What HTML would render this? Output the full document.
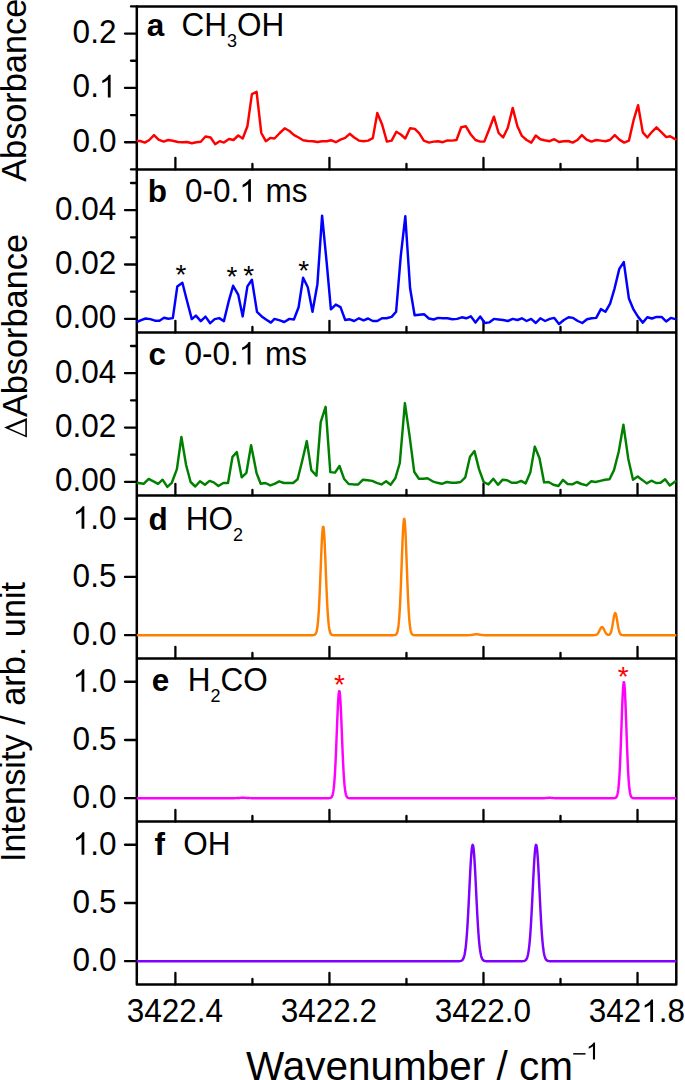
<!DOCTYPE html>
<html><head><meta charset="utf-8"><style>
html,body{margin:0;padding:0;background:#fff;}
body{width:685px;height:1080px;overflow:hidden;}
svg{display:block;font-family:"Liberation Sans",sans-serif;}
</style></head><body>
<svg width="685" height="1080" viewBox="0 0 685 1080">
<rect width="685" height="1080" fill="#fff"/>
<line x1="136.80" y1="169.42" x2="676.30" y2="169.42" stroke="#000" stroke-width="2.5" stroke-linecap="butt"/>
<line x1="136.80" y1="332.43" x2="676.30" y2="332.43" stroke="#000" stroke-width="2.5" stroke-linecap="butt"/>
<line x1="136.80" y1="495.45" x2="676.30" y2="495.45" stroke="#000" stroke-width="2.5" stroke-linecap="butt"/>
<line x1="136.80" y1="658.47" x2="676.30" y2="658.47" stroke="#000" stroke-width="2.5" stroke-linecap="butt"/>
<line x1="136.80" y1="821.48" x2="676.30" y2="821.48" stroke="#000" stroke-width="2.5" stroke-linecap="butt"/>
<path d="M136.8,984.5000000000001 L136.8,6.4 L676.3,6.4 L676.3,984.5000000000001 Z" fill="none" stroke="#000" stroke-width="2.5" stroke-linejoin="round"/>
<line x1="175.40" y1="169.42" x2="175.40" y2="157.82" stroke="#000" stroke-width="2.3" stroke-linecap="round"/>
<line x1="252.42" y1="169.42" x2="252.42" y2="163.92" stroke="#000" stroke-width="2.3" stroke-linecap="round"/>
<line x1="329.44" y1="169.42" x2="329.44" y2="157.82" stroke="#000" stroke-width="2.3" stroke-linecap="round"/>
<line x1="406.46" y1="169.42" x2="406.46" y2="163.92" stroke="#000" stroke-width="2.3" stroke-linecap="round"/>
<line x1="483.48" y1="169.42" x2="483.48" y2="157.82" stroke="#000" stroke-width="2.3" stroke-linecap="round"/>
<line x1="560.50" y1="169.42" x2="560.50" y2="163.92" stroke="#000" stroke-width="2.3" stroke-linecap="round"/>
<line x1="637.52" y1="169.42" x2="637.52" y2="157.82" stroke="#000" stroke-width="2.3" stroke-linecap="round"/>
<line x1="175.40" y1="332.43" x2="175.40" y2="320.83" stroke="#000" stroke-width="2.3" stroke-linecap="round"/>
<line x1="252.42" y1="332.43" x2="252.42" y2="326.93" stroke="#000" stroke-width="2.3" stroke-linecap="round"/>
<line x1="329.44" y1="332.43" x2="329.44" y2="320.83" stroke="#000" stroke-width="2.3" stroke-linecap="round"/>
<line x1="406.46" y1="332.43" x2="406.46" y2="326.93" stroke="#000" stroke-width="2.3" stroke-linecap="round"/>
<line x1="483.48" y1="332.43" x2="483.48" y2="320.83" stroke="#000" stroke-width="2.3" stroke-linecap="round"/>
<line x1="560.50" y1="332.43" x2="560.50" y2="326.93" stroke="#000" stroke-width="2.3" stroke-linecap="round"/>
<line x1="637.52" y1="332.43" x2="637.52" y2="320.83" stroke="#000" stroke-width="2.3" stroke-linecap="round"/>
<line x1="175.40" y1="495.45" x2="175.40" y2="483.85" stroke="#000" stroke-width="2.3" stroke-linecap="round"/>
<line x1="252.42" y1="495.45" x2="252.42" y2="489.95" stroke="#000" stroke-width="2.3" stroke-linecap="round"/>
<line x1="329.44" y1="495.45" x2="329.44" y2="483.85" stroke="#000" stroke-width="2.3" stroke-linecap="round"/>
<line x1="406.46" y1="495.45" x2="406.46" y2="489.95" stroke="#000" stroke-width="2.3" stroke-linecap="round"/>
<line x1="483.48" y1="495.45" x2="483.48" y2="483.85" stroke="#000" stroke-width="2.3" stroke-linecap="round"/>
<line x1="560.50" y1="495.45" x2="560.50" y2="489.95" stroke="#000" stroke-width="2.3" stroke-linecap="round"/>
<line x1="637.52" y1="495.45" x2="637.52" y2="483.85" stroke="#000" stroke-width="2.3" stroke-linecap="round"/>
<line x1="175.40" y1="658.47" x2="175.40" y2="646.87" stroke="#000" stroke-width="2.3" stroke-linecap="round"/>
<line x1="252.42" y1="658.47" x2="252.42" y2="652.97" stroke="#000" stroke-width="2.3" stroke-linecap="round"/>
<line x1="329.44" y1="658.47" x2="329.44" y2="646.87" stroke="#000" stroke-width="2.3" stroke-linecap="round"/>
<line x1="406.46" y1="658.47" x2="406.46" y2="652.97" stroke="#000" stroke-width="2.3" stroke-linecap="round"/>
<line x1="483.48" y1="658.47" x2="483.48" y2="646.87" stroke="#000" stroke-width="2.3" stroke-linecap="round"/>
<line x1="560.50" y1="658.47" x2="560.50" y2="652.97" stroke="#000" stroke-width="2.3" stroke-linecap="round"/>
<line x1="637.52" y1="658.47" x2="637.52" y2="646.87" stroke="#000" stroke-width="2.3" stroke-linecap="round"/>
<line x1="175.40" y1="821.48" x2="175.40" y2="809.88" stroke="#000" stroke-width="2.3" stroke-linecap="round"/>
<line x1="252.42" y1="821.48" x2="252.42" y2="815.98" stroke="#000" stroke-width="2.3" stroke-linecap="round"/>
<line x1="329.44" y1="821.48" x2="329.44" y2="809.88" stroke="#000" stroke-width="2.3" stroke-linecap="round"/>
<line x1="406.46" y1="821.48" x2="406.46" y2="815.98" stroke="#000" stroke-width="2.3" stroke-linecap="round"/>
<line x1="483.48" y1="821.48" x2="483.48" y2="809.88" stroke="#000" stroke-width="2.3" stroke-linecap="round"/>
<line x1="560.50" y1="821.48" x2="560.50" y2="815.98" stroke="#000" stroke-width="2.3" stroke-linecap="round"/>
<line x1="637.52" y1="821.48" x2="637.52" y2="809.88" stroke="#000" stroke-width="2.3" stroke-linecap="round"/>
<line x1="175.40" y1="984.50" x2="175.40" y2="972.90" stroke="#000" stroke-width="2.3" stroke-linecap="round"/>
<line x1="252.42" y1="984.50" x2="252.42" y2="979.00" stroke="#000" stroke-width="2.3" stroke-linecap="round"/>
<line x1="329.44" y1="984.50" x2="329.44" y2="972.90" stroke="#000" stroke-width="2.3" stroke-linecap="round"/>
<line x1="406.46" y1="984.50" x2="406.46" y2="979.00" stroke="#000" stroke-width="2.3" stroke-linecap="round"/>
<line x1="483.48" y1="984.50" x2="483.48" y2="972.90" stroke="#000" stroke-width="2.3" stroke-linecap="round"/>
<line x1="560.50" y1="984.50" x2="560.50" y2="979.00" stroke="#000" stroke-width="2.3" stroke-linecap="round"/>
<line x1="637.52" y1="984.50" x2="637.52" y2="972.90" stroke="#000" stroke-width="2.3" stroke-linecap="round"/>
<line x1="125.00" y1="142.25" x2="136.80" y2="142.25" stroke="#000" stroke-width="2.3" stroke-linecap="round"/>
<text xml:space="preserve" transform="translate(72.61,151.75) scale(1,1.026)" font-size="31.5" font-weight="normal" fill="#000">0.0</text>
<line x1="125.00" y1="87.91" x2="136.80" y2="87.91" stroke="#000" stroke-width="2.3" stroke-linecap="round"/>
<text xml:space="preserve" transform="translate(72.61,97.41) scale(1,1.026)" font-size="31.5" font-weight="normal" fill="#000">0.</text>
<path transform="translate(98.88,97.41) scale(0.01538,-0.01538)" d="M763 0H583V1147Q518 1085 412.5 1023Q307 961 223 930V1104Q374 1175 487 1276Q600 1377 647 1466H763V0Z" fill="#000"/>
<line x1="125.00" y1="33.57" x2="136.80" y2="33.57" stroke="#000" stroke-width="2.3" stroke-linecap="round"/>
<text xml:space="preserve" transform="translate(72.61,43.07) scale(1,1.026)" font-size="31.5" font-weight="normal" fill="#000">0.2</text>
<line x1="131.00" y1="169.42" x2="136.80" y2="169.42" stroke="#000" stroke-width="2.3" stroke-linecap="round"/>
<line x1="131.00" y1="115.08" x2="136.80" y2="115.08" stroke="#000" stroke-width="2.3" stroke-linecap="round"/>
<line x1="131.00" y1="60.74" x2="136.80" y2="60.74" stroke="#000" stroke-width="2.3" stroke-linecap="round"/>
<line x1="131.00" y1="6.40" x2="136.80" y2="6.40" stroke="#000" stroke-width="2.3" stroke-linecap="round"/>
<line x1="125.00" y1="318.85" x2="136.80" y2="318.85" stroke="#000" stroke-width="2.3" stroke-linecap="round"/>
<text xml:space="preserve" transform="translate(55.09,328.35) scale(1,1.026)" font-size="31.5" font-weight="normal" fill="#000">0.00</text>
<line x1="125.00" y1="264.51" x2="136.80" y2="264.51" stroke="#000" stroke-width="2.3" stroke-linecap="round"/>
<text xml:space="preserve" transform="translate(55.09,274.01) scale(1,1.026)" font-size="31.5" font-weight="normal" fill="#000">0.02</text>
<line x1="125.00" y1="210.17" x2="136.80" y2="210.17" stroke="#000" stroke-width="2.3" stroke-linecap="round"/>
<text xml:space="preserve" transform="translate(55.09,219.67) scale(1,1.026)" font-size="31.5" font-weight="normal" fill="#000">0.04</text>
<line x1="131.00" y1="291.68" x2="136.80" y2="291.68" stroke="#000" stroke-width="2.3" stroke-linecap="round"/>
<line x1="131.00" y1="237.34" x2="136.80" y2="237.34" stroke="#000" stroke-width="2.3" stroke-linecap="round"/>
<line x1="131.00" y1="183.00" x2="136.80" y2="183.00" stroke="#000" stroke-width="2.3" stroke-linecap="round"/>
<line x1="125.00" y1="481.87" x2="136.80" y2="481.87" stroke="#000" stroke-width="2.3" stroke-linecap="round"/>
<text xml:space="preserve" transform="translate(55.09,491.37) scale(1,1.026)" font-size="31.5" font-weight="normal" fill="#000">0.00</text>
<line x1="125.00" y1="427.53" x2="136.80" y2="427.53" stroke="#000" stroke-width="2.3" stroke-linecap="round"/>
<text xml:space="preserve" transform="translate(55.09,437.03) scale(1,1.026)" font-size="31.5" font-weight="normal" fill="#000">0.02</text>
<line x1="125.00" y1="373.19" x2="136.80" y2="373.19" stroke="#000" stroke-width="2.3" stroke-linecap="round"/>
<text xml:space="preserve" transform="translate(55.09,382.69) scale(1,1.026)" font-size="31.5" font-weight="normal" fill="#000">0.04</text>
<line x1="131.00" y1="454.70" x2="136.80" y2="454.70" stroke="#000" stroke-width="2.3" stroke-linecap="round"/>
<line x1="131.00" y1="400.36" x2="136.80" y2="400.36" stroke="#000" stroke-width="2.3" stroke-linecap="round"/>
<line x1="131.00" y1="346.02" x2="136.80" y2="346.02" stroke="#000" stroke-width="2.3" stroke-linecap="round"/>
<line x1="125.00" y1="635.18" x2="136.80" y2="635.18" stroke="#000" stroke-width="2.3" stroke-linecap="round"/>
<text xml:space="preserve" transform="translate(72.61,645.28) scale(1,1.026)" font-size="31.5" font-weight="normal" fill="#000">0.0</text>
<line x1="125.00" y1="576.96" x2="136.80" y2="576.96" stroke="#000" stroke-width="2.3" stroke-linecap="round"/>
<text xml:space="preserve" transform="translate(72.61,587.06) scale(1,1.026)" font-size="31.5" font-weight="normal" fill="#000">0.5</text>
<line x1="125.00" y1="518.74" x2="136.80" y2="518.74" stroke="#000" stroke-width="2.3" stroke-linecap="round"/>
<path transform="translate(72.61,528.84) scale(0.01538,-0.01538)" d="M763 0H583V1147Q518 1085 412.5 1023Q307 961 223 930V1104Q374 1175 487 1276Q600 1377 647 1466H763V0Z" fill="#000"/>
<text xml:space="preserve" transform="translate(90.13,528.84) scale(1,1.026)" font-size="31.5" font-weight="normal" fill="#000">.0</text>
<line x1="125.00" y1="798.20" x2="136.80" y2="798.20" stroke="#000" stroke-width="2.3" stroke-linecap="round"/>
<text xml:space="preserve" transform="translate(72.61,808.30) scale(1,1.026)" font-size="31.5" font-weight="normal" fill="#000">0.0</text>
<line x1="125.00" y1="739.98" x2="136.80" y2="739.98" stroke="#000" stroke-width="2.3" stroke-linecap="round"/>
<text xml:space="preserve" transform="translate(72.61,750.08) scale(1,1.026)" font-size="31.5" font-weight="normal" fill="#000">0.5</text>
<line x1="125.00" y1="681.75" x2="136.80" y2="681.75" stroke="#000" stroke-width="2.3" stroke-linecap="round"/>
<path transform="translate(72.61,691.85) scale(0.01538,-0.01538)" d="M763 0H583V1147Q518 1085 412.5 1023Q307 961 223 930V1104Q374 1175 487 1276Q600 1377 647 1466H763V0Z" fill="#000"/>
<text xml:space="preserve" transform="translate(90.13,691.85) scale(1,1.026)" font-size="31.5" font-weight="normal" fill="#000">.0</text>
<line x1="125.00" y1="961.21" x2="136.80" y2="961.21" stroke="#000" stroke-width="2.3" stroke-linecap="round"/>
<text xml:space="preserve" transform="translate(72.61,971.31) scale(1,1.026)" font-size="31.5" font-weight="normal" fill="#000">0.0</text>
<line x1="125.00" y1="902.99" x2="136.80" y2="902.99" stroke="#000" stroke-width="2.3" stroke-linecap="round"/>
<text xml:space="preserve" transform="translate(72.61,913.09) scale(1,1.026)" font-size="31.5" font-weight="normal" fill="#000">0.5</text>
<line x1="125.00" y1="844.77" x2="136.80" y2="844.77" stroke="#000" stroke-width="2.3" stroke-linecap="round"/>
<path transform="translate(72.61,854.87) scale(0.01538,-0.01538)" d="M763 0H583V1147Q518 1085 412.5 1023Q307 961 223 930V1104Q374 1175 487 1276Q600 1377 647 1466H763V0Z" fill="#000"/>
<text xml:space="preserve" transform="translate(90.13,854.87) scale(1,1.026)" font-size="31.5" font-weight="normal" fill="#000">.0</text>
<defs><clipPath id="cp"><rect x="136.8" y="6.4" width="539.5" height="978.1000000000001"/></clipPath></defs>
<g>
<polyline points="136.80,141.00 140.10,141.00 144.80,142.60 149.30,140.00 154.00,135.10 158.50,139.60 163.60,141.60 168.10,140.00 172.80,140.80 177.90,142.00 182.40,142.20 187.10,142.00 191.80,143.20 196.30,142.20 200.80,141.80 205.50,136.50 210.60,137.50 215.10,144.10 219.80,141.20 223.90,142.60 229.00,139.00 233.50,140.00 238.20,135.50 242.70,138.50 247.40,126.30 251.90,94.20 256.60,91.90 261.30,133.00 265.80,141.20 270.30,137.90 274.50,138.50 279.80,133.00 284.70,128.30 289.40,131.00 294.10,135.10 298.60,137.50 303.10,140.20 307.80,141.00 312.90,141.20 317.40,142.00 322.10,141.20 326.80,141.20 330.90,140.20 335.80,142.20 340.50,139.60 345.20,137.90 349.70,133.80 354.20,137.50 358.90,140.60 363.60,141.20 368.10,140.60 372.80,138.10 377.30,113.00 382.00,124.20 386.90,141.60 391.60,140.60 396.30,131.80 400.80,134.50 405.30,138.50 410.10,128.30 414.80,128.90 419.30,133.40 423.80,140.60 429.10,142.60 433.60,141.60 438.10,141.20 442.80,142.20 447.50,140.40 452.00,140.60 456.50,140.00 461.20,127.30 465.90,126.30 470.80,134.50 475.50,140.00 480.20,141.60 484.30,141.60 489.20,129.30 493.90,116.70 498.60,133.00 503.10,137.50 507.80,127.70 512.70,107.90 517.40,126.30 521.90,135.90 526.60,140.00 531.30,142.60 535.80,135.50 540.30,139.20 544.50,140.20 549.60,141.20 554.30,139.20 559.00,142.00 563.50,141.20 568.20,141.00 572.70,142.60 577.40,140.00 581.90,135.10 586.60,139.60 591.50,141.60 596.20,140.00 600.90,140.60 605.40,141.20 609.90,140.00 614.80,135.10 619.30,139.60 624.20,142.60 628.90,140.60 633.60,120.20 638.10,105.20 642.80,132.40 647.30,137.50 652.00,131.80 656.50,127.30 661.60,132.40 666.30,137.10 670.10,136.30 676.30,139.90" fill="none" stroke="#ff0000" stroke-width="2.45" stroke-linejoin="round" stroke-linecap="butt"/>
<polyline points="136.80,322.10 141.10,320.10 145.60,318.50 150.30,319.10 155.00,320.70 159.50,320.70 164.00,317.70 168.30,318.70 172.80,318.10 177.30,286.40 182.40,282.70 186.70,299.70 191.80,319.10 195.90,315.60 200.80,321.10 205.50,316.60 210.20,323.20 214.70,319.10 219.20,318.10 223.90,321.10 228.60,301.70 233.10,285.80 238.20,294.60 242.70,316.40 247.40,286.40 251.90,279.80 257.00,311.90 261.70,316.40 266.40,319.70 270.90,322.60 274.50,318.90 279.80,320.40 284.30,322.00 289.40,318.90 293.90,319.50 298.60,307.30 303.10,277.70 307.80,287.30 312.50,311.80 317.40,284.20 322.10,215.70 326.80,263.80 330.90,309.30 335.80,304.60 340.50,307.10 345.20,320.00 349.70,319.30 354.20,321.00 358.90,318.30 363.60,320.40 368.10,318.50 372.80,321.00 377.30,321.00 382.00,318.30 386.50,318.30 391.60,316.90 396.10,311.80 400.80,255.60 405.30,216.30 410.10,288.30 414.60,315.30 419.30,314.80 424.00,314.20 428.90,318.50 433.60,319.50 438.10,317.90 442.80,318.30 447.50,318.30 452.40,319.30 457.10,318.90 461.80,317.30 466.30,318.30 470.80,316.30 475.50,322.60 480.20,316.50 484.70,323.00 489.20,322.40 493.90,318.90 498.60,319.50 503.10,320.00 507.80,321.00 512.70,318.90 517.40,320.00 521.90,318.30 526.60,321.00 531.10,318.90 535.80,323.00 540.30,318.30 545.10,321.00 549.80,318.90 554.30,317.90 559.00,324.00 563.90,320.00 568.60,317.30 573.10,317.90 577.80,321.00 582.30,323.00 587.00,319.30 591.70,318.30 596.20,317.90 600.90,309.10 605.40,311.80 610.10,303.60 614.60,288.30 619.30,268.90 623.80,262.10 628.90,298.50 633.60,309.70 638.10,316.90 642.80,322.60 647.30,317.30 652.00,318.50 656.50,316.90 661.60,316.90 666.10,321.40 670.80,317.90 676.30,319.40" fill="none" stroke="#0000ff" stroke-width="2.45" stroke-linejoin="round" stroke-linecap="butt"/>
<polyline points="136.80,482.80 143.60,483.80 148.70,478.90 153.40,481.30 158.10,483.80 162.60,479.70 167.30,486.90 171.80,482.80 176.90,469.10 181.40,437.00 186.10,465.00 190.60,482.00 195.30,486.50 200.00,481.30 204.90,484.80 209.60,480.90 213.70,482.40 218.40,486.00 223.30,483.00 228.00,483.00 232.50,456.80 236.80,452.10 241.70,477.30 246.40,472.80 251.10,445.20 256.60,473.20 260.70,483.80 265.40,483.00 270.30,485.40 274.50,483.80 279.20,481.30 283.90,483.00 288.40,483.00 293.10,483.00 297.60,479.30 302.30,460.50 306.80,441.10 311.30,470.10 316.40,475.80 320.70,422.10 325.60,406.80 330.30,472.10 335.00,472.60 339.50,466.00 344.00,478.70 348.70,484.00 353.40,484.40 358.30,484.40 363.00,479.70 367.70,480.30 372.20,480.90 376.70,482.80 381.40,484.40 386.10,481.30 390.60,484.80 395.30,478.30 399.80,463.00 404.90,403.10 409.50,435.40 414.20,471.70 418.90,478.70 423.40,478.70 427.50,478.30 432.60,481.30 437.30,482.80 441.80,483.80 446.90,482.00 451.60,482.80 456.10,482.80 460.60,482.00 465.30,477.30 470.00,456.80 474.50,451.10 479.00,469.10 483.70,482.00 488.40,484.40 493.30,478.70 498.00,484.80 502.70,479.70 507.20,480.30 511.70,482.80 516.40,482.80 521.10,480.90 525.60,483.40 530.30,472.60 534.80,446.60 539.50,458.30 544.10,482.40 548.60,482.00 553.30,484.80 558.40,486.00 562.90,479.90 567.60,484.00 572.30,484.40 576.80,482.00 581.50,484.00 586.60,485.40 591.10,481.30 595.60,482.00 600.30,480.90 605.00,479.70 609.50,479.30 614.00,470.10 618.70,451.70 623.40,424.70 628.30,458.90 633.00,479.70 637.70,476.60 642.20,479.90 646.70,483.40 651.40,480.70 656.10,483.00 660.60,482.80 665.10,479.30 669.80,485.40 676.30,480.70" fill="none" stroke="#008000" stroke-width="2.45" stroke-linejoin="round" stroke-linecap="butt"/>
<polyline points="136.80,635.18 137.25,635.18 137.70,635.18 138.15,635.18 138.60,635.18 139.05,635.18 139.50,635.18 139.95,635.18 140.40,635.18 140.85,635.18 141.30,635.18 141.75,635.18 142.20,635.18 142.64,635.18 143.09,635.18 143.54,635.18 143.99,635.18 144.44,635.18 144.89,635.18 145.34,635.18 145.79,635.18 146.24,635.18 146.69,635.18 147.14,635.18 147.59,635.18 148.04,635.18 148.49,635.18 148.94,635.18 149.39,635.18 149.84,635.18 150.29,635.18 150.74,635.18 151.19,635.18 151.64,635.18 152.09,635.18 152.54,635.18 152.99,635.18 153.43,635.18 153.88,635.18 154.33,635.18 154.78,635.18 155.23,635.18 155.68,635.18 156.13,635.18 156.58,635.18 157.03,635.18 157.48,635.18 157.93,635.18 158.38,635.18 158.83,635.18 159.28,635.18 159.73,635.18 160.18,635.18 160.63,635.18 161.08,635.18 161.53,635.18 161.98,635.18 162.43,635.18 162.88,635.18 163.33,635.18 163.78,635.18 164.22,635.18 164.67,635.18 165.12,635.18 165.57,635.18 166.02,635.18 166.47,635.18 166.92,635.18 167.37,635.18 167.82,635.18 168.27,635.18 168.72,635.18 169.17,635.18 169.62,635.18 170.07,635.18 170.52,635.18 170.97,635.18 171.42,635.18 171.87,635.18 172.32,635.18 172.77,635.18 173.22,635.18 173.67,635.18 174.12,635.18 174.56,635.18 175.01,635.18 175.46,635.18 175.91,635.18 176.36,635.18 176.81,635.18 177.26,635.18 177.71,635.18 178.16,635.18 178.61,635.18 179.06,635.18 179.51,635.18 179.96,635.18 180.41,635.18 180.86,635.18 181.31,635.18 181.76,635.18 182.21,635.18 182.66,635.18 183.11,635.18 183.56,635.18 184.01,635.18 184.46,635.18 184.91,635.18 185.36,635.18 185.80,635.18 186.25,635.18 186.70,635.18 187.15,635.18 187.60,635.18 188.05,635.18 188.50,635.18 188.95,635.18 189.40,635.18 189.85,635.18 190.30,635.18 190.75,635.18 191.20,635.18 191.65,635.18 192.10,635.18 192.55,635.18 193.00,635.18 193.45,635.18 193.90,635.18 194.35,635.18 194.80,635.18 195.25,635.18 195.70,635.18 196.15,635.18 196.59,635.18 197.04,635.18 197.49,635.18 197.94,635.18 198.39,635.18 198.84,635.18 199.29,635.18 199.74,635.18 200.19,635.18 200.64,635.18 201.09,635.18 201.54,635.18 201.99,635.18 202.44,635.18 202.89,635.18 203.34,635.18 203.79,635.18 204.24,635.18 204.69,635.18 205.14,635.18 205.59,635.18 206.04,635.18 206.49,635.18 206.94,635.18 207.38,635.18 207.83,635.18 208.28,635.18 208.73,635.18 209.18,635.18 209.63,635.18 210.08,635.18 210.53,635.18 210.98,635.18 211.43,635.18 211.88,635.18 212.33,635.18 212.78,635.18 213.23,635.18 213.68,635.18 214.13,635.18 214.58,635.18 215.03,635.18 215.48,635.18 215.93,635.18 216.38,635.18 216.83,635.18 217.28,635.18 217.73,635.18 218.17,635.18 218.62,635.18 219.07,635.18 219.52,635.18 219.97,635.18 220.42,635.18 220.87,635.18 221.32,635.18 221.77,635.18 222.22,635.18 222.67,635.18 223.12,635.18 223.57,635.18 224.02,635.18 224.47,635.18 224.92,635.18 225.37,635.18 225.82,635.18 226.27,635.18 226.72,635.18 227.17,635.18 227.62,635.18 228.07,635.18 228.52,635.18 228.96,635.18 229.41,635.18 229.86,635.18 230.31,635.18 230.76,635.18 231.21,635.18 231.66,635.18 232.11,635.18 232.56,635.18 233.01,635.18 233.46,635.18 233.91,635.18 234.36,635.18 234.81,635.18 235.26,635.18 235.71,635.18 236.16,635.18 236.61,635.18 237.06,635.18 237.51,635.18 237.96,635.18 238.41,635.18 238.86,635.18 239.31,635.18 239.75,635.18 240.20,635.18 240.65,635.18 241.10,635.18 241.55,635.18 242.00,635.18 242.45,635.18 242.90,635.18 243.35,635.18 243.80,635.18 244.25,635.18 244.70,635.18 245.15,635.18 245.60,635.18 246.05,635.18 246.50,635.18 246.95,635.18 247.40,635.18 247.85,635.18 248.30,635.18 248.75,635.18 249.20,635.18 249.65,635.18 250.10,635.18 250.54,635.18 250.99,635.18 251.44,635.18 251.89,635.18 252.34,635.18 252.79,635.18 253.24,635.18 253.69,635.18 254.14,635.18 254.59,635.18 255.04,635.18 255.49,635.18 255.94,635.18 256.39,635.18 256.84,635.18 257.29,635.18 257.74,635.18 258.19,635.18 258.64,635.18 259.09,635.18 259.54,635.18 259.99,635.18 260.44,635.18 260.88,635.18 261.33,635.18 261.78,635.18 262.23,635.18 262.68,635.18 263.13,635.18 263.58,635.18 264.03,635.18 264.48,635.18 264.93,635.18 265.38,635.18 265.83,635.18 266.28,635.18 266.73,635.18 267.18,635.18 267.63,635.18 268.08,635.18 268.53,635.18 268.98,635.18 269.43,635.18 269.88,635.18 270.33,635.18 270.78,635.18 271.23,635.18 271.68,635.18 272.12,635.18 272.57,635.18 273.02,635.18 273.47,635.18 273.92,635.18 274.37,635.18 274.82,635.18 275.27,635.18 275.72,635.18 276.17,635.18 276.62,635.18 277.07,635.18 277.52,635.18 277.97,635.18 278.42,635.18 278.87,635.18 279.32,635.18 279.77,635.18 280.22,635.18 280.67,635.18 281.12,635.18 281.57,635.18 282.02,635.18 282.47,635.18 282.91,635.18 283.36,635.18 283.81,635.18 284.26,635.18 284.71,635.18 285.16,635.18 285.61,635.18 286.06,635.18 286.51,635.18 286.96,635.18 287.41,635.18 287.86,635.18 288.31,635.18 288.76,635.18 289.21,635.18 289.66,635.18 290.11,635.18 290.56,635.18 291.01,635.18 291.46,635.18 291.91,635.18 292.36,635.18 292.81,635.18 293.25,635.18 293.70,635.18 294.15,635.18 294.60,635.18 295.05,635.18 295.50,635.18 295.95,635.18 296.40,635.18 296.85,635.18 297.30,635.18 297.75,635.18 298.20,635.18 298.65,635.18 299.10,635.18 299.55,635.18 300.00,635.18 300.45,635.18 300.90,635.18 301.35,635.18 301.80,635.18 302.25,635.18 302.70,635.18 303.15,635.18 303.60,635.18 304.05,635.18 304.49,635.18 304.94,635.18 305.39,635.18 305.84,635.18 306.29,635.18 306.74,635.18 307.19,635.18 307.64,635.18 308.09,635.18 308.54,635.18 308.99,635.18 309.44,635.18 309.89,635.18 310.34,635.18 310.79,635.18 311.24,635.18 311.69,635.17 312.14,635.17 312.59,635.16 313.04,635.14 313.49,635.10 313.94,635.03 314.39,634.90 314.84,634.68 315.28,634.31 315.73,633.69 316.18,632.72 316.63,631.25 317.08,629.08 317.53,626.01 317.98,621.82 318.43,616.30 318.88,609.32 319.33,600.84 319.78,590.99 320.23,580.04 320.68,568.50 321.13,557.01 321.58,546.35 322.03,537.33 322.48,530.70 322.93,527.04 323.38,526.69 323.83,529.66 324.28,535.70 324.73,544.28 325.18,554.65 325.62,566.03 326.07,577.63 326.52,588.74 326.97,598.86 327.42,607.64 327.87,614.94 328.32,620.76 328.77,625.23 329.22,628.52 329.67,630.86 330.12,632.46 330.57,633.52 331.02,634.20 331.47,634.62 331.92,634.87 332.37,635.01 332.82,635.09 333.27,635.13 333.72,635.16 334.17,635.17 334.62,635.17 335.07,635.18 335.52,635.18 335.97,635.18 336.42,635.18 336.86,635.18 337.31,635.18 337.76,635.18 338.21,635.18 338.66,635.18 339.11,635.18 339.56,635.18 340.01,635.18 340.46,635.18 340.91,635.18 341.36,635.18 341.81,635.18 342.26,635.18 342.71,635.18 343.16,635.18 343.61,635.18 344.06,635.18 344.51,635.18 344.96,635.18 345.41,635.18 345.86,635.18 346.31,635.18 346.76,635.18 347.21,635.18 347.65,635.18 348.10,635.18 348.55,635.18 349.00,635.18 349.45,635.18 349.90,635.18 350.35,635.18 350.80,635.18 351.25,635.18 351.70,635.18 352.15,635.18 352.60,635.18 353.05,635.18 353.50,635.18 353.95,635.18 354.40,635.18 354.85,635.18 355.30,635.18 355.75,635.18 356.20,635.18 356.65,635.18 357.10,635.18 357.55,635.18 358.00,635.18 358.44,635.18 358.89,635.18 359.34,635.18 359.79,635.18 360.24,635.18 360.69,635.18 361.14,635.18 361.59,635.18 362.04,635.18 362.49,635.18 362.94,635.18 363.39,635.18 363.84,635.18 364.29,635.18 364.74,635.18 365.19,635.18 365.64,635.18 366.09,635.18 366.54,635.18 366.99,635.18 367.44,635.18 367.89,635.18 368.34,635.18 368.79,635.18 369.23,635.18 369.68,635.18 370.13,635.18 370.58,635.18 371.03,635.18 371.48,635.18 371.93,635.18 372.38,635.18 372.83,635.18 373.28,635.18 373.73,635.18 374.18,635.18 374.63,635.18 375.08,635.18 375.53,635.18 375.98,635.18 376.43,635.18 376.88,635.18 377.33,635.18 377.78,635.18 378.23,635.18 378.68,635.18 379.13,635.18 379.58,635.18 380.02,635.18 380.47,635.18 380.92,635.18 381.37,635.18 381.82,635.18 382.27,635.18 382.72,635.18 383.17,635.18 383.62,635.18 384.07,635.18 384.52,635.18 384.97,635.18 385.42,635.18 385.87,635.18 386.32,635.18 386.77,635.18 387.22,635.18 387.67,635.18 388.12,635.18 388.57,635.18 389.02,635.18 389.47,635.18 389.92,635.18 390.37,635.18 390.81,635.18 391.26,635.18 391.71,635.18 392.16,635.18 392.61,635.17 393.06,635.17 393.51,635.16 393.96,635.14 394.41,635.11 394.86,635.04 395.31,634.91 395.76,634.70 396.21,634.33 396.66,633.72 397.11,632.76 397.56,631.28 398.01,629.10 398.46,625.99 398.91,621.72 399.36,616.06 399.81,608.85 400.26,600.04 400.71,589.72 401.16,578.16 401.60,565.87 402.05,553.50 402.50,541.88 402.95,531.87 403.40,524.30 403.85,519.82 404.30,518.83 404.75,521.44 405.20,527.39 405.65,536.16 406.10,547.01 406.55,559.08 407.00,571.51 407.45,583.54 407.90,594.58 408.35,604.24 408.80,612.32 409.25,618.81 409.70,623.82 410.15,627.53 410.60,630.19 411.05,632.03 411.50,633.25 411.94,634.03 412.39,634.52 412.84,634.81 413.29,634.98 413.74,635.07 414.19,635.13 414.64,635.15 415.09,635.17 415.54,635.17 415.99,635.18 416.44,635.18 416.89,635.18 417.34,635.18 417.79,635.18 418.24,635.18 418.69,635.18 419.14,635.18 419.59,635.18 420.04,635.18 420.49,635.18 420.94,635.18 421.39,635.18 421.84,635.18 422.29,635.18 422.74,635.18 423.18,635.18 423.63,635.18 424.08,635.18 424.53,635.18 424.98,635.18 425.43,635.18 425.88,635.18 426.33,635.18 426.78,635.18 427.23,635.18 427.68,635.18 428.13,635.18 428.58,635.18 429.03,635.18 429.48,635.18 429.93,635.18 430.38,635.18 430.83,635.18 431.28,635.18 431.73,635.18 432.18,635.18 432.63,635.18 433.08,635.18 433.53,635.18 433.97,635.18 434.42,635.18 434.87,635.18 435.32,635.18 435.77,635.18 436.22,635.18 436.67,635.18 437.12,635.18 437.57,635.18 438.02,635.18 438.47,635.18 438.92,635.18 439.37,635.18 439.82,635.18 440.27,635.18 440.72,635.18 441.17,635.18 441.62,635.18 442.07,635.18 442.52,635.18 442.97,635.18 443.42,635.18 443.87,635.18 444.31,635.18 444.76,635.18 445.21,635.18 445.66,635.18 446.11,635.18 446.56,635.18 447.01,635.18 447.46,635.18 447.91,635.18 448.36,635.18 448.81,635.18 449.26,635.18 449.71,635.18 450.16,635.18 450.61,635.18 451.06,635.18 451.51,635.18 451.96,635.18 452.41,635.18 452.86,635.18 453.31,635.18 453.76,635.18 454.21,635.18 454.66,635.18 455.11,635.18 455.55,635.18 456.00,635.18 456.45,635.18 456.90,635.18 457.35,635.18 457.80,635.18 458.25,635.18 458.70,635.18 459.15,635.18 459.60,635.18 460.05,635.18 460.50,635.18 460.95,635.18 461.40,635.18 461.85,635.18 462.30,635.18 462.75,635.18 463.20,635.18 463.65,635.18 464.10,635.18 464.55,635.18 465.00,635.18 465.45,635.18 465.90,635.18 466.34,635.18 466.79,635.17 467.24,635.17 467.69,635.17 468.14,635.16 468.59,635.15 469.04,635.14 469.49,635.12 469.94,635.10 470.39,635.07 470.84,635.03 471.29,634.98 471.74,634.92 472.19,634.85 472.64,634.78 473.09,634.70 473.54,634.61 473.99,634.53 474.44,634.45 474.89,634.37 475.34,634.32 475.79,634.27 476.24,634.25 476.69,634.25 477.13,634.27 477.58,634.31 478.03,634.36 478.48,634.43 478.93,634.51 479.38,634.60 479.83,634.68 480.28,634.76 480.73,634.84 481.18,634.91 481.63,634.97 482.08,635.02 482.53,635.06 482.98,635.09 483.43,635.12 483.88,635.14 484.33,635.15 484.78,635.16 485.23,635.17 485.68,635.17 486.13,635.17 486.58,635.18 487.03,635.18 487.48,635.18 487.92,635.18 488.37,635.18 488.82,635.18 489.27,635.18 489.72,635.18 490.17,635.18 490.62,635.18 491.07,635.18 491.52,635.18 491.97,635.18 492.42,635.18 492.87,635.18 493.32,635.18 493.77,635.18 494.22,635.18 494.67,635.18 495.12,635.18 495.57,635.18 496.02,635.18 496.47,635.18 496.92,635.18 497.37,635.18 497.82,635.18 498.26,635.18 498.71,635.18 499.16,635.18 499.61,635.18 500.06,635.18 500.51,635.18 500.96,635.18 501.41,635.18 501.86,635.18 502.31,635.18 502.76,635.18 503.21,635.18 503.66,635.18 504.11,635.18 504.56,635.18 505.01,635.18 505.46,635.18 505.91,635.18 506.36,635.18 506.81,635.18 507.26,635.18 507.71,635.18 508.16,635.18 508.61,635.18 509.06,635.18 509.50,635.18 509.95,635.18 510.40,635.18 510.85,635.18 511.30,635.18 511.75,635.18 512.20,635.18 512.65,635.18 513.10,635.18 513.55,635.18 514.00,635.18 514.45,635.18 514.90,635.18 515.35,635.18 515.80,635.18 516.25,635.18 516.70,635.18 517.15,635.18 517.60,635.18 518.05,635.18 518.50,635.18 518.95,635.18 519.40,635.18 519.85,635.18 520.29,635.18 520.74,635.18 521.19,635.18 521.64,635.18 522.09,635.18 522.54,635.18 522.99,635.18 523.44,635.18 523.89,635.18 524.34,635.18 524.79,635.18 525.24,635.18 525.69,635.18 526.14,635.18 526.59,635.18 527.04,635.18 527.49,635.18 527.94,635.18 528.39,635.18 528.84,635.18 529.29,635.18 529.74,635.18 530.19,635.18 530.63,635.18 531.08,635.18 531.53,635.18 531.98,635.18 532.43,635.18 532.88,635.18 533.33,635.18 533.78,635.18 534.23,635.18 534.68,635.18 535.13,635.18 535.58,635.18 536.03,635.18 536.48,635.18 536.93,635.18 537.38,635.18 537.83,635.18 538.28,635.18 538.73,635.18 539.18,635.18 539.63,635.18 540.08,635.18 540.53,635.18 540.98,635.18 541.42,635.18 541.87,635.18 542.32,635.18 542.77,635.18 543.22,635.18 543.67,635.18 544.12,635.18 544.57,635.18 545.02,635.18 545.47,635.18 545.92,635.18 546.37,635.18 546.82,635.18 547.27,635.18 547.72,635.18 548.17,635.18 548.62,635.18 549.07,635.18 549.52,635.18 549.97,635.18 550.42,635.18 550.87,635.18 551.32,635.18 551.77,635.18 552.22,635.18 552.66,635.18 553.11,635.18 553.56,635.18 554.01,635.18 554.46,635.18 554.91,635.18 555.36,635.18 555.81,635.18 556.26,635.18 556.71,635.18 557.16,635.18 557.61,635.18 558.06,635.18 558.51,635.18 558.96,635.18 559.41,635.18 559.86,635.18 560.31,635.18 560.76,635.18 561.21,635.18 561.66,635.18 562.11,635.18 562.56,635.18 563.00,635.18 563.45,635.18 563.90,635.18 564.35,635.18 564.80,635.18 565.25,635.18 565.70,635.18 566.15,635.18 566.60,635.18 567.05,635.18 567.50,635.18 567.95,635.18 568.40,635.18 568.85,635.18 569.30,635.18 569.75,635.18 570.20,635.18 570.65,635.18 571.10,635.18 571.55,635.18 572.00,635.18 572.45,635.18 572.90,635.18 573.35,635.18 573.80,635.18 574.24,635.18 574.69,635.18 575.14,635.18 575.59,635.18 576.04,635.18 576.49,635.18 576.94,635.18 577.39,635.18 577.84,635.18 578.29,635.18 578.74,635.18 579.19,635.18 579.64,635.18 580.09,635.18 580.54,635.18 580.99,635.18 581.44,635.18 581.89,635.18 582.34,635.18 582.79,635.18 583.24,635.18 583.69,635.18 584.14,635.18 584.59,635.18 585.03,635.18 585.48,635.18 585.93,635.18 586.38,635.18 586.83,635.18 587.28,635.18 587.73,635.18 588.18,635.18 588.63,635.18 589.08,635.18 589.53,635.18 589.98,635.18 590.43,635.18 590.88,635.18 591.33,635.18 591.78,635.18 592.23,635.18 592.68,635.18 593.13,635.17 593.58,635.17 594.03,635.15 594.48,635.13 594.93,635.10 595.38,635.03 595.82,634.93 596.27,634.77 596.72,634.54 597.17,634.22 597.62,633.77 598.07,633.20 598.52,632.49 598.97,631.66 599.42,630.75 599.87,629.80 600.32,628.88 600.77,628.08 601.22,627.47 601.67,627.11 602.12,627.04 602.57,627.27 603.02,627.77 603.47,628.49 603.92,629.36 604.37,630.30 604.82,631.24 605.27,632.11 605.72,632.88 606.16,633.51 606.61,634.01 607.06,634.39 607.51,634.64 607.96,634.80 608.41,634.86 608.86,634.81 609.31,634.64 609.76,634.31 610.21,633.76 610.66,632.92 611.11,631.71 611.56,630.09 612.01,628.02 612.46,625.56 612.91,622.82 613.36,619.99 613.81,617.33 614.26,615.13 614.71,613.64 615.16,613.06 615.61,613.46 616.06,614.78 616.51,616.86 616.95,619.46 617.40,622.27 617.85,625.05 618.30,627.58 618.75,629.72 619.20,631.44 619.65,632.72 620.10,633.64 620.55,634.26 621.00,634.65 621.45,634.89 621.90,635.03 622.35,635.10 622.80,635.14 623.25,635.16 623.70,635.17 624.15,635.18 624.60,635.18 625.05,635.18 625.50,635.18 625.95,635.18 626.40,635.18 626.85,635.18 627.30,635.18 627.75,635.18 628.19,635.18 628.64,635.18 629.09,635.18 629.54,635.18 629.99,635.18 630.44,635.18 630.89,635.18 631.34,635.18 631.79,635.18 632.24,635.18 632.69,635.18 633.14,635.18 633.59,635.18 634.04,635.18 634.49,635.18 634.94,635.18 635.39,635.18 635.84,635.18 636.29,635.18 636.74,635.18 637.19,635.18 637.64,635.18 638.09,635.18 638.54,635.18 638.98,635.18 639.43,635.18 639.88,635.18 640.33,635.18 640.78,635.18 641.23,635.18 641.68,635.18 642.13,635.18 642.58,635.18 643.03,635.18 643.48,635.18 643.93,635.18 644.38,635.18 644.83,635.18 645.28,635.18 645.73,635.18 646.18,635.18 646.63,635.18 647.08,635.18 647.53,635.18 647.98,635.18 648.43,635.18 648.88,635.18 649.33,635.18 649.77,635.18 650.22,635.18 650.67,635.18 651.12,635.18 651.57,635.18 652.02,635.18 652.47,635.18 652.92,635.18 653.37,635.18 653.82,635.18 654.27,635.18 654.72,635.18 655.17,635.18 655.62,635.18 656.07,635.18 656.52,635.18 656.97,635.18 657.42,635.18 657.87,635.18 658.32,635.18 658.77,635.18 659.22,635.18 659.67,635.18 660.12,635.18 660.56,635.18 661.01,635.18 661.46,635.18 661.91,635.18 662.36,635.18 662.81,635.18 663.26,635.18 663.71,635.18 664.16,635.18 664.61,635.18 665.06,635.18 665.51,635.18 665.96,635.18 666.41,635.18 666.86,635.18 667.31,635.18 667.76,635.18 668.21,635.18 668.66,635.18 669.11,635.18 669.56,635.18 670.01,635.18 670.46,635.18 670.90,635.18 671.35,635.18 671.80,635.18 672.25,635.18 672.70,635.18 673.15,635.18 673.60,635.18 674.05,635.18 674.50,635.18 674.95,635.18 675.40,635.18 675.85,635.18 676.30,635.18" fill="none" stroke="#ff8000" stroke-width="2.45" stroke-linejoin="round" stroke-linecap="butt"/>
<polyline points="136.80,798.20 137.25,798.20 137.70,798.20 138.15,798.20 138.60,798.20 139.05,798.20 139.50,798.20 139.95,798.20 140.40,798.20 140.85,798.20 141.30,798.20 141.75,798.20 142.20,798.20 142.64,798.20 143.09,798.20 143.54,798.20 143.99,798.20 144.44,798.20 144.89,798.20 145.34,798.20 145.79,798.20 146.24,798.20 146.69,798.20 147.14,798.20 147.59,798.20 148.04,798.20 148.49,798.20 148.94,798.20 149.39,798.20 149.84,798.20 150.29,798.20 150.74,798.20 151.19,798.20 151.64,798.20 152.09,798.20 152.54,798.20 152.99,798.20 153.43,798.20 153.88,798.20 154.33,798.20 154.78,798.20 155.23,798.20 155.68,798.20 156.13,798.20 156.58,798.20 157.03,798.20 157.48,798.20 157.93,798.20 158.38,798.20 158.83,798.20 159.28,798.20 159.73,798.20 160.18,798.20 160.63,798.20 161.08,798.20 161.53,798.20 161.98,798.20 162.43,798.20 162.88,798.20 163.33,798.20 163.78,798.20 164.22,798.20 164.67,798.20 165.12,798.20 165.57,798.20 166.02,798.20 166.47,798.20 166.92,798.20 167.37,798.20 167.82,798.20 168.27,798.20 168.72,798.20 169.17,798.20 169.62,798.20 170.07,798.20 170.52,798.20 170.97,798.20 171.42,798.20 171.87,798.20 172.32,798.20 172.77,798.20 173.22,798.20 173.67,798.20 174.12,798.20 174.56,798.20 175.01,798.20 175.46,798.20 175.91,798.20 176.36,798.20 176.81,798.20 177.26,798.20 177.71,798.20 178.16,798.20 178.61,798.20 179.06,798.20 179.51,798.20 179.96,798.20 180.41,798.20 180.86,798.20 181.31,798.20 181.76,798.20 182.21,798.20 182.66,798.20 183.11,798.20 183.56,798.20 184.01,798.20 184.46,798.20 184.91,798.20 185.36,798.20 185.80,798.20 186.25,798.20 186.70,798.20 187.15,798.20 187.60,798.20 188.05,798.20 188.50,798.20 188.95,798.20 189.40,798.20 189.85,798.20 190.30,798.20 190.75,798.20 191.20,798.20 191.65,798.20 192.10,798.20 192.55,798.20 193.00,798.20 193.45,798.20 193.90,798.20 194.35,798.20 194.80,798.20 195.25,798.20 195.70,798.20 196.15,798.20 196.59,798.20 197.04,798.20 197.49,798.20 197.94,798.20 198.39,798.20 198.84,798.20 199.29,798.20 199.74,798.20 200.19,798.20 200.64,798.20 201.09,798.20 201.54,798.20 201.99,798.20 202.44,798.20 202.89,798.20 203.34,798.20 203.79,798.20 204.24,798.20 204.69,798.20 205.14,798.20 205.59,798.20 206.04,798.20 206.49,798.20 206.94,798.20 207.38,798.20 207.83,798.20 208.28,798.20 208.73,798.20 209.18,798.20 209.63,798.20 210.08,798.20 210.53,798.20 210.98,798.20 211.43,798.20 211.88,798.20 212.33,798.20 212.78,798.20 213.23,798.20 213.68,798.20 214.13,798.20 214.58,798.20 215.03,798.20 215.48,798.20 215.93,798.20 216.38,798.20 216.83,798.20 217.28,798.20 217.73,798.20 218.17,798.20 218.62,798.20 219.07,798.20 219.52,798.20 219.97,798.20 220.42,798.20 220.87,798.20 221.32,798.20 221.77,798.20 222.22,798.20 222.67,798.20 223.12,798.20 223.57,798.20 224.02,798.20 224.47,798.20 224.92,798.20 225.37,798.20 225.82,798.20 226.27,798.20 226.72,798.20 227.17,798.20 227.62,798.20 228.07,798.20 228.52,798.19 228.96,798.19 229.41,798.19 229.86,798.19 230.31,798.19 230.76,798.19 231.21,798.19 231.66,798.19 232.11,798.19 232.56,798.19 233.01,798.18 233.46,798.18 233.91,798.17 234.36,798.16 234.81,798.15 235.26,798.14 235.71,798.13 236.16,798.11 236.61,798.09 237.06,798.07 237.51,798.05 237.96,798.02 238.41,798.00 238.86,797.97 239.31,797.94 239.75,797.91 240.20,797.88 240.65,797.86 241.10,797.83 241.55,797.82 242.00,797.80 242.45,797.79 242.90,797.79 243.35,797.79 243.80,797.80 244.25,797.81 244.70,797.83 245.15,797.85 245.60,797.87 246.05,797.90 246.50,797.93 246.95,797.96 247.40,797.99 247.85,798.01 248.30,798.04 248.75,798.06 249.20,798.09 249.65,798.11 250.10,798.12 250.54,798.14 250.99,798.15 251.44,798.16 251.89,798.17 252.34,798.17 252.79,798.18 253.24,798.18 253.69,798.19 254.14,798.19 254.59,798.19 255.04,798.19 255.49,798.19 255.94,798.19 256.39,798.19 256.84,798.19 257.29,798.19 257.74,798.19 258.19,798.20 258.64,798.20 259.09,798.20 259.54,798.20 259.99,798.20 260.44,798.20 260.88,798.20 261.33,798.20 261.78,798.20 262.23,798.20 262.68,798.20 263.13,798.20 263.58,798.20 264.03,798.20 264.48,798.20 264.93,798.20 265.38,798.20 265.83,798.20 266.28,798.20 266.73,798.20 267.18,798.20 267.63,798.20 268.08,798.20 268.53,798.20 268.98,798.20 269.43,798.20 269.88,798.20 270.33,798.20 270.78,798.20 271.23,798.20 271.68,798.20 272.12,798.20 272.57,798.20 273.02,798.20 273.47,798.20 273.92,798.20 274.37,798.20 274.82,798.20 275.27,798.20 275.72,798.20 276.17,798.20 276.62,798.20 277.07,798.20 277.52,798.20 277.97,798.20 278.42,798.20 278.87,798.20 279.32,798.20 279.77,798.20 280.22,798.20 280.67,798.20 281.12,798.20 281.57,798.20 282.02,798.20 282.47,798.20 282.91,798.20 283.36,798.20 283.81,798.20 284.26,798.20 284.71,798.20 285.16,798.20 285.61,798.20 286.06,798.20 286.51,798.20 286.96,798.20 287.41,798.20 287.86,798.20 288.31,798.20 288.76,798.20 289.21,798.20 289.66,798.20 290.11,798.20 290.56,798.20 291.01,798.20 291.46,798.20 291.91,798.20 292.36,798.20 292.81,798.20 293.25,798.20 293.70,798.20 294.15,798.20 294.60,798.20 295.05,798.20 295.50,798.20 295.95,798.20 296.40,798.20 296.85,798.20 297.30,798.20 297.75,798.20 298.20,798.20 298.65,798.20 299.10,798.20 299.55,798.20 300.00,798.20 300.45,798.20 300.90,798.20 301.35,798.20 301.80,798.20 302.25,798.20 302.70,798.20 303.15,798.20 303.60,798.20 304.05,798.20 304.49,798.20 304.94,798.20 305.39,798.20 305.84,798.20 306.29,798.20 306.74,798.20 307.19,798.20 307.64,798.20 308.09,798.20 308.54,798.20 308.99,798.20 309.44,798.20 309.89,798.20 310.34,798.20 310.79,798.20 311.24,798.20 311.69,798.20 312.14,798.20 312.59,798.20 313.04,798.20 313.49,798.20 313.94,798.20 314.39,798.20 314.84,798.20 315.28,798.20 315.73,798.20 316.18,798.20 316.63,798.20 317.08,798.20 317.53,798.20 317.98,798.20 318.43,798.20 318.88,798.20 319.33,798.20 319.78,798.20 320.23,798.20 320.68,798.20 321.13,798.20 321.58,798.20 322.03,798.20 322.48,798.20 322.93,798.20 323.38,798.20 323.83,798.20 324.28,798.20 324.73,798.20 325.18,798.20 325.62,798.20 326.07,798.20 326.52,798.19 326.97,798.19 327.42,798.19 327.87,798.19 328.32,798.19 328.77,798.17 329.22,798.15 329.67,798.11 330.12,798.03 330.57,797.89 331.02,797.65 331.47,797.24 331.92,796.58 332.37,795.54 332.82,793.97 333.27,791.68 333.72,788.46 334.17,784.08 334.62,778.37 335.07,771.20 335.52,762.56 335.97,752.60 336.42,741.64 336.86,730.20 337.31,718.96 337.76,708.68 338.21,700.17 338.66,694.14 339.11,691.13 339.56,691.40 340.01,694.94 340.46,701.43 340.91,710.28 341.36,720.78 341.81,732.11 342.26,743.51 342.71,754.33 343.16,764.09 343.61,772.49 344.06,779.42 344.51,784.90 344.96,789.07 345.41,792.12 345.86,794.28 346.31,795.75 346.76,796.71 347.21,797.32 347.65,797.70 348.10,797.92 348.55,798.05 349.00,798.12 349.45,798.16 349.90,798.18 350.35,798.19 350.80,798.19 351.25,798.19 351.70,798.19 352.15,798.19 352.60,798.20 353.05,798.20 353.50,798.20 353.95,798.20 354.40,798.20 354.85,798.20 355.30,798.20 355.75,798.20 356.20,798.20 356.65,798.20 357.10,798.20 357.55,798.20 358.00,798.20 358.44,798.20 358.89,798.20 359.34,798.20 359.79,798.20 360.24,798.20 360.69,798.20 361.14,798.20 361.59,798.20 362.04,798.20 362.49,798.20 362.94,798.20 363.39,798.20 363.84,798.20 364.29,798.20 364.74,798.20 365.19,798.20 365.64,798.20 366.09,798.20 366.54,798.20 366.99,798.20 367.44,798.20 367.89,798.20 368.34,798.20 368.79,798.20 369.23,798.20 369.68,798.20 370.13,798.20 370.58,798.20 371.03,798.20 371.48,798.20 371.93,798.20 372.38,798.20 372.83,798.20 373.28,798.20 373.73,798.20 374.18,798.20 374.63,798.20 375.08,798.20 375.53,798.20 375.98,798.20 376.43,798.20 376.88,798.20 377.33,798.20 377.78,798.20 378.23,798.20 378.68,798.20 379.13,798.20 379.58,798.20 380.02,798.20 380.47,798.20 380.92,798.20 381.37,798.20 381.82,798.20 382.27,798.20 382.72,798.20 383.17,798.20 383.62,798.20 384.07,798.20 384.52,798.20 384.97,798.20 385.42,798.20 385.87,798.20 386.32,798.20 386.77,798.20 387.22,798.20 387.67,798.20 388.12,798.20 388.57,798.20 389.02,798.20 389.47,798.20 389.92,798.20 390.37,798.20 390.81,798.20 391.26,798.20 391.71,798.20 392.16,798.20 392.61,798.20 393.06,798.20 393.51,798.20 393.96,798.20 394.41,798.20 394.86,798.20 395.31,798.20 395.76,798.20 396.21,798.20 396.66,798.20 397.11,798.20 397.56,798.20 398.01,798.20 398.46,798.20 398.91,798.20 399.36,798.20 399.81,798.20 400.26,798.20 400.71,798.20 401.16,798.20 401.60,798.20 402.05,798.20 402.50,798.20 402.95,798.20 403.40,798.20 403.85,798.20 404.30,798.20 404.75,798.20 405.20,798.20 405.65,798.20 406.10,798.20 406.55,798.20 407.00,798.20 407.45,798.20 407.90,798.20 408.35,798.20 408.80,798.20 409.25,798.20 409.70,798.20 410.15,798.20 410.60,798.20 411.05,798.20 411.50,798.20 411.94,798.20 412.39,798.20 412.84,798.20 413.29,798.20 413.74,798.20 414.19,798.20 414.64,798.20 415.09,798.20 415.54,798.20 415.99,798.20 416.44,798.20 416.89,798.20 417.34,798.20 417.79,798.20 418.24,798.20 418.69,798.20 419.14,798.20 419.59,798.20 420.04,798.20 420.49,798.20 420.94,798.20 421.39,798.20 421.84,798.20 422.29,798.20 422.74,798.20 423.18,798.20 423.63,798.20 424.08,798.20 424.53,798.20 424.98,798.20 425.43,798.20 425.88,798.20 426.33,798.20 426.78,798.20 427.23,798.20 427.68,798.20 428.13,798.20 428.58,798.20 429.03,798.20 429.48,798.20 429.93,798.20 430.38,798.20 430.83,798.20 431.28,798.20 431.73,798.20 432.18,798.20 432.63,798.20 433.08,798.20 433.53,798.20 433.97,798.20 434.42,798.20 434.87,798.20 435.32,798.20 435.77,798.20 436.22,798.20 436.67,798.20 437.12,798.20 437.57,798.20 438.02,798.20 438.47,798.20 438.92,798.20 439.37,798.20 439.82,798.20 440.27,798.20 440.72,798.20 441.17,798.20 441.62,798.20 442.07,798.20 442.52,798.20 442.97,798.20 443.42,798.20 443.87,798.20 444.31,798.20 444.76,798.20 445.21,798.20 445.66,798.20 446.11,798.20 446.56,798.20 447.01,798.20 447.46,798.20 447.91,798.20 448.36,798.20 448.81,798.20 449.26,798.20 449.71,798.20 450.16,798.20 450.61,798.20 451.06,798.20 451.51,798.20 451.96,798.20 452.41,798.20 452.86,798.20 453.31,798.20 453.76,798.20 454.21,798.20 454.66,798.20 455.11,798.20 455.55,798.20 456.00,798.20 456.45,798.20 456.90,798.20 457.35,798.20 457.80,798.20 458.25,798.20 458.70,798.20 459.15,798.20 459.60,798.20 460.05,798.20 460.50,798.20 460.95,798.20 461.40,798.20 461.85,798.20 462.30,798.20 462.75,798.20 463.20,798.20 463.65,798.20 464.10,798.20 464.55,798.20 465.00,798.20 465.45,798.20 465.90,798.20 466.34,798.20 466.79,798.20 467.24,798.20 467.69,798.20 468.14,798.20 468.59,798.20 469.04,798.20 469.49,798.20 469.94,798.20 470.39,798.20 470.84,798.20 471.29,798.20 471.74,798.20 472.19,798.20 472.64,798.20 473.09,798.20 473.54,798.20 473.99,798.20 474.44,798.20 474.89,798.20 475.34,798.20 475.79,798.20 476.24,798.20 476.69,798.20 477.13,798.20 477.58,798.20 478.03,798.20 478.48,798.20 478.93,798.20 479.38,798.20 479.83,798.20 480.28,798.20 480.73,798.20 481.18,798.20 481.63,798.20 482.08,798.20 482.53,798.20 482.98,798.20 483.43,798.20 483.88,798.20 484.33,798.20 484.78,798.20 485.23,798.20 485.68,798.20 486.13,798.20 486.58,798.20 487.03,798.20 487.48,798.20 487.92,798.20 488.37,798.20 488.82,798.20 489.27,798.20 489.72,798.20 490.17,798.20 490.62,798.20 491.07,798.20 491.52,798.20 491.97,798.20 492.42,798.20 492.87,798.20 493.32,798.20 493.77,798.20 494.22,798.20 494.67,798.20 495.12,798.20 495.57,798.20 496.02,798.20 496.47,798.20 496.92,798.20 497.37,798.20 497.82,798.20 498.26,798.20 498.71,798.20 499.16,798.20 499.61,798.20 500.06,798.20 500.51,798.20 500.96,798.20 501.41,798.20 501.86,798.20 502.31,798.20 502.76,798.20 503.21,798.20 503.66,798.20 504.11,798.20 504.56,798.20 505.01,798.20 505.46,798.20 505.91,798.20 506.36,798.20 506.81,798.20 507.26,798.20 507.71,798.20 508.16,798.20 508.61,798.20 509.06,798.20 509.50,798.20 509.95,798.20 510.40,798.20 510.85,798.20 511.30,798.20 511.75,798.20 512.20,798.20 512.65,798.20 513.10,798.20 513.55,798.20 514.00,798.20 514.45,798.20 514.90,798.20 515.35,798.20 515.80,798.20 516.25,798.20 516.70,798.20 517.15,798.20 517.60,798.20 518.05,798.20 518.50,798.20 518.95,798.20 519.40,798.20 519.85,798.20 520.29,798.20 520.74,798.20 521.19,798.20 521.64,798.20 522.09,798.20 522.54,798.20 522.99,798.20 523.44,798.20 523.89,798.20 524.34,798.20 524.79,798.20 525.24,798.20 525.69,798.20 526.14,798.20 526.59,798.20 527.04,798.20 527.49,798.20 527.94,798.20 528.39,798.20 528.84,798.20 529.29,798.20 529.74,798.20 530.19,798.20 530.63,798.20 531.08,798.20 531.53,798.20 531.98,798.20 532.43,798.20 532.88,798.20 533.33,798.20 533.78,798.20 534.23,798.20 534.68,798.20 535.13,798.20 535.58,798.20 536.03,798.20 536.48,798.20 536.93,798.20 537.38,798.20 537.83,798.20 538.28,798.20 538.73,798.20 539.18,798.20 539.63,798.20 540.08,798.20 540.53,798.20 540.98,798.20 541.42,798.19 541.87,798.19 542.32,798.19 542.77,798.19 543.22,798.19 543.67,798.18 544.12,798.18 544.57,798.16 545.02,798.14 545.47,798.12 545.92,798.08 546.37,798.04 546.82,797.99 547.27,797.93 547.72,797.87 548.17,797.81 548.62,797.77 549.07,797.74 549.52,797.73 549.97,797.74 550.42,797.77 550.87,797.82 551.32,797.87 551.77,797.93 552.22,797.99 552.66,798.04 553.11,798.09 553.56,798.12 554.01,798.15 554.46,798.16 554.91,798.18 555.36,798.18 555.81,798.19 556.26,798.19 556.71,798.19 557.16,798.19 557.61,798.19 558.06,798.20 558.51,798.20 558.96,798.20 559.41,798.20 559.86,798.20 560.31,798.20 560.76,798.20 561.21,798.20 561.66,798.20 562.11,798.20 562.56,798.20 563.00,798.20 563.45,798.20 563.90,798.20 564.35,798.20 564.80,798.20 565.25,798.20 565.70,798.20 566.15,798.20 566.60,798.20 567.05,798.20 567.50,798.20 567.95,798.20 568.40,798.20 568.85,798.20 569.30,798.20 569.75,798.20 570.20,798.20 570.65,798.20 571.10,798.20 571.55,798.20 572.00,798.20 572.45,798.20 572.90,798.20 573.35,798.20 573.80,798.20 574.24,798.20 574.69,798.20 575.14,798.20 575.59,798.20 576.04,798.20 576.49,798.20 576.94,798.20 577.39,798.20 577.84,798.20 578.29,798.20 578.74,798.20 579.19,798.20 579.64,798.20 580.09,798.20 580.54,798.20 580.99,798.20 581.44,798.20 581.89,798.20 582.34,798.20 582.79,798.20 583.24,798.20 583.69,798.20 584.14,798.20 584.59,798.20 585.03,798.20 585.48,798.20 585.93,798.20 586.38,798.20 586.83,798.20 587.28,798.20 587.73,798.20 588.18,798.20 588.63,798.20 589.08,798.20 589.53,798.20 589.98,798.20 590.43,798.20 590.88,798.20 591.33,798.20 591.78,798.20 592.23,798.20 592.68,798.20 593.13,798.20 593.58,798.20 594.03,798.20 594.48,798.20 594.93,798.20 595.38,798.20 595.82,798.20 596.27,798.20 596.72,798.20 597.17,798.20 597.62,798.20 598.07,798.20 598.52,798.20 598.97,798.20 599.42,798.20 599.87,798.20 600.32,798.20 600.77,798.20 601.22,798.20 601.67,798.20 602.12,798.20 602.57,798.20 603.02,798.20 603.47,798.20 603.92,798.20 604.37,798.20 604.82,798.20 605.27,798.20 605.72,798.20 606.16,798.20 606.61,798.20 607.06,798.20 607.51,798.20 607.96,798.20 608.41,798.20 608.86,798.20 609.31,798.20 609.76,798.20 610.21,798.20 610.66,798.20 611.11,798.20 611.56,798.19 612.01,798.19 612.46,798.19 612.91,798.19 613.36,798.18 613.81,798.17 614.26,798.14 614.71,798.09 615.16,797.98 615.61,797.79 616.06,797.46 616.51,796.91 616.95,796.01 617.40,794.60 617.85,792.47 618.30,789.38 618.75,785.07 619.20,779.30 619.65,771.87 620.10,762.73 620.55,751.98 621.00,739.94 621.45,727.17 621.90,714.44 622.35,702.67 622.80,692.81 623.25,685.75 623.70,682.14 624.15,682.35 624.60,686.34 625.05,693.73 625.50,703.83 625.95,715.75 626.40,728.52 626.85,741.25 627.30,753.17 627.75,763.77 628.19,772.73 628.64,779.98 629.09,785.59 629.54,789.76 629.99,792.73 630.44,794.78 630.89,796.12 631.34,796.98 631.79,797.51 632.24,797.82 632.69,798.00 633.14,798.09 633.59,798.14 634.04,798.17 634.49,798.18 634.94,798.19 635.39,798.19 635.84,798.19 636.29,798.19 636.74,798.20 637.19,798.20 637.64,798.20 638.09,798.20 638.54,798.20 638.98,798.20 639.43,798.20 639.88,798.20 640.33,798.20 640.78,798.20 641.23,798.20 641.68,798.20 642.13,798.20 642.58,798.20 643.03,798.20 643.48,798.20 643.93,798.20 644.38,798.20 644.83,798.20 645.28,798.20 645.73,798.20 646.18,798.20 646.63,798.20 647.08,798.20 647.53,798.20 647.98,798.20 648.43,798.20 648.88,798.20 649.33,798.20 649.77,798.20 650.22,798.20 650.67,798.20 651.12,798.20 651.57,798.20 652.02,798.20 652.47,798.20 652.92,798.20 653.37,798.20 653.82,798.20 654.27,798.20 654.72,798.20 655.17,798.20 655.62,798.20 656.07,798.20 656.52,798.20 656.97,798.20 657.42,798.20 657.87,798.20 658.32,798.20 658.77,798.20 659.22,798.20 659.67,798.20 660.12,798.20 660.56,798.20 661.01,798.20 661.46,798.20 661.91,798.20 662.36,798.20 662.81,798.20 663.26,798.20 663.71,798.20 664.16,798.20 664.61,798.20 665.06,798.20 665.51,798.20 665.96,798.20 666.41,798.20 666.86,798.20 667.31,798.20 667.76,798.20 668.21,798.20 668.66,798.20 669.11,798.20 669.56,798.20 670.01,798.20 670.46,798.20 670.90,798.20 671.35,798.20 671.80,798.20 672.25,798.20 672.70,798.20 673.15,798.20 673.60,798.20 674.05,798.20 674.50,798.20 674.95,798.20 675.40,798.20 675.85,798.20 676.30,798.20" fill="none" stroke="#ff00ff" stroke-width="2.45" stroke-linejoin="round" stroke-linecap="butt"/>
<polyline points="136.80,961.21 137.25,961.21 137.70,961.21 138.15,961.21 138.60,961.21 139.05,961.21 139.50,961.21 139.95,961.21 140.40,961.21 140.85,961.21 141.30,961.21 141.75,961.21 142.20,961.21 142.64,961.21 143.09,961.21 143.54,961.21 143.99,961.21 144.44,961.21 144.89,961.21 145.34,961.21 145.79,961.21 146.24,961.21 146.69,961.21 147.14,961.21 147.59,961.21 148.04,961.21 148.49,961.21 148.94,961.21 149.39,961.21 149.84,961.21 150.29,961.21 150.74,961.21 151.19,961.21 151.64,961.21 152.09,961.21 152.54,961.21 152.99,961.21 153.43,961.21 153.88,961.21 154.33,961.21 154.78,961.21 155.23,961.21 155.68,961.21 156.13,961.21 156.58,961.21 157.03,961.21 157.48,961.21 157.93,961.21 158.38,961.21 158.83,961.21 159.28,961.21 159.73,961.21 160.18,961.21 160.63,961.21 161.08,961.21 161.53,961.21 161.98,961.21 162.43,961.21 162.88,961.21 163.33,961.21 163.78,961.21 164.22,961.21 164.67,961.21 165.12,961.21 165.57,961.21 166.02,961.21 166.47,961.21 166.92,961.21 167.37,961.21 167.82,961.21 168.27,961.21 168.72,961.21 169.17,961.21 169.62,961.21 170.07,961.21 170.52,961.21 170.97,961.21 171.42,961.21 171.87,961.21 172.32,961.21 172.77,961.21 173.22,961.21 173.67,961.21 174.12,961.21 174.56,961.21 175.01,961.21 175.46,961.21 175.91,961.21 176.36,961.21 176.81,961.21 177.26,961.21 177.71,961.21 178.16,961.21 178.61,961.21 179.06,961.21 179.51,961.21 179.96,961.21 180.41,961.21 180.86,961.21 181.31,961.21 181.76,961.21 182.21,961.21 182.66,961.21 183.11,961.21 183.56,961.21 184.01,961.21 184.46,961.21 184.91,961.21 185.36,961.21 185.80,961.21 186.25,961.21 186.70,961.21 187.15,961.21 187.60,961.21 188.05,961.21 188.50,961.21 188.95,961.21 189.40,961.21 189.85,961.21 190.30,961.21 190.75,961.21 191.20,961.21 191.65,961.21 192.10,961.21 192.55,961.21 193.00,961.21 193.45,961.21 193.90,961.21 194.35,961.21 194.80,961.21 195.25,961.21 195.70,961.21 196.15,961.21 196.59,961.21 197.04,961.21 197.49,961.21 197.94,961.21 198.39,961.21 198.84,961.21 199.29,961.21 199.74,961.21 200.19,961.21 200.64,961.21 201.09,961.21 201.54,961.21 201.99,961.21 202.44,961.21 202.89,961.21 203.34,961.21 203.79,961.21 204.24,961.21 204.69,961.21 205.14,961.21 205.59,961.21 206.04,961.21 206.49,961.21 206.94,961.21 207.38,961.21 207.83,961.21 208.28,961.21 208.73,961.21 209.18,961.21 209.63,961.21 210.08,961.21 210.53,961.21 210.98,961.21 211.43,961.21 211.88,961.21 212.33,961.21 212.78,961.21 213.23,961.21 213.68,961.21 214.13,961.21 214.58,961.21 215.03,961.21 215.48,961.21 215.93,961.21 216.38,961.21 216.83,961.21 217.28,961.21 217.73,961.21 218.17,961.21 218.62,961.21 219.07,961.21 219.52,961.21 219.97,961.21 220.42,961.21 220.87,961.21 221.32,961.21 221.77,961.21 222.22,961.21 222.67,961.21 223.12,961.21 223.57,961.21 224.02,961.21 224.47,961.21 224.92,961.21 225.37,961.21 225.82,961.21 226.27,961.21 226.72,961.21 227.17,961.21 227.62,961.21 228.07,961.21 228.52,961.21 228.96,961.21 229.41,961.21 229.86,961.21 230.31,961.21 230.76,961.21 231.21,961.21 231.66,961.21 232.11,961.21 232.56,961.21 233.01,961.21 233.46,961.21 233.91,961.21 234.36,961.21 234.81,961.21 235.26,961.21 235.71,961.21 236.16,961.21 236.61,961.21 237.06,961.21 237.51,961.21 237.96,961.21 238.41,961.21 238.86,961.21 239.31,961.21 239.75,961.21 240.20,961.21 240.65,961.21 241.10,961.21 241.55,961.21 242.00,961.21 242.45,961.21 242.90,961.21 243.35,961.21 243.80,961.21 244.25,961.21 244.70,961.21 245.15,961.21 245.60,961.21 246.05,961.21 246.50,961.21 246.95,961.21 247.40,961.21 247.85,961.21 248.30,961.21 248.75,961.21 249.20,961.21 249.65,961.21 250.10,961.21 250.54,961.21 250.99,961.21 251.44,961.21 251.89,961.21 252.34,961.21 252.79,961.21 253.24,961.21 253.69,961.21 254.14,961.21 254.59,961.21 255.04,961.21 255.49,961.21 255.94,961.21 256.39,961.21 256.84,961.21 257.29,961.21 257.74,961.21 258.19,961.21 258.64,961.21 259.09,961.21 259.54,961.21 259.99,961.21 260.44,961.21 260.88,961.21 261.33,961.21 261.78,961.21 262.23,961.21 262.68,961.21 263.13,961.21 263.58,961.21 264.03,961.21 264.48,961.21 264.93,961.21 265.38,961.21 265.83,961.21 266.28,961.21 266.73,961.21 267.18,961.21 267.63,961.21 268.08,961.21 268.53,961.21 268.98,961.21 269.43,961.21 269.88,961.21 270.33,961.21 270.78,961.21 271.23,961.21 271.68,961.21 272.12,961.21 272.57,961.21 273.02,961.21 273.47,961.21 273.92,961.21 274.37,961.21 274.82,961.21 275.27,961.21 275.72,961.21 276.17,961.21 276.62,961.21 277.07,961.21 277.52,961.21 277.97,961.21 278.42,961.21 278.87,961.21 279.32,961.21 279.77,961.21 280.22,961.21 280.67,961.21 281.12,961.21 281.57,961.21 282.02,961.21 282.47,961.21 282.91,961.21 283.36,961.21 283.81,961.21 284.26,961.21 284.71,961.21 285.16,961.21 285.61,961.21 286.06,961.21 286.51,961.21 286.96,961.21 287.41,961.21 287.86,961.21 288.31,961.21 288.76,961.21 289.21,961.21 289.66,961.21 290.11,961.21 290.56,961.21 291.01,961.21 291.46,961.21 291.91,961.21 292.36,961.21 292.81,961.21 293.25,961.21 293.70,961.21 294.15,961.21 294.60,961.21 295.05,961.21 295.50,961.21 295.95,961.21 296.40,961.21 296.85,961.21 297.30,961.21 297.75,961.21 298.20,961.21 298.65,961.21 299.10,961.21 299.55,961.21 300.00,961.21 300.45,961.21 300.90,961.21 301.35,961.21 301.80,961.21 302.25,961.21 302.70,961.21 303.15,961.21 303.60,961.21 304.05,961.21 304.49,961.21 304.94,961.21 305.39,961.21 305.84,961.21 306.29,961.21 306.74,961.21 307.19,961.21 307.64,961.21 308.09,961.21 308.54,961.21 308.99,961.21 309.44,961.21 309.89,961.21 310.34,961.21 310.79,961.21 311.24,961.21 311.69,961.21 312.14,961.21 312.59,961.21 313.04,961.21 313.49,961.21 313.94,961.21 314.39,961.21 314.84,961.21 315.28,961.21 315.73,961.21 316.18,961.21 316.63,961.21 317.08,961.21 317.53,961.21 317.98,961.21 318.43,961.21 318.88,961.21 319.33,961.21 319.78,961.21 320.23,961.21 320.68,961.21 321.13,961.21 321.58,961.21 322.03,961.21 322.48,961.21 322.93,961.21 323.38,961.21 323.83,961.21 324.28,961.21 324.73,961.21 325.18,961.21 325.62,961.21 326.07,961.21 326.52,961.21 326.97,961.21 327.42,961.21 327.87,961.21 328.32,961.21 328.77,961.21 329.22,961.21 329.67,961.21 330.12,961.21 330.57,961.21 331.02,961.21 331.47,961.21 331.92,961.21 332.37,961.21 332.82,961.21 333.27,961.21 333.72,961.21 334.17,961.21 334.62,961.21 335.07,961.21 335.52,961.21 335.97,961.21 336.42,961.21 336.86,961.21 337.31,961.21 337.76,961.21 338.21,961.21 338.66,961.21 339.11,961.21 339.56,961.21 340.01,961.21 340.46,961.21 340.91,961.21 341.36,961.21 341.81,961.21 342.26,961.21 342.71,961.21 343.16,961.21 343.61,961.21 344.06,961.21 344.51,961.21 344.96,961.21 345.41,961.21 345.86,961.21 346.31,961.21 346.76,961.21 347.21,961.21 347.65,961.21 348.10,961.21 348.55,961.21 349.00,961.21 349.45,961.21 349.90,961.21 350.35,961.21 350.80,961.21 351.25,961.21 351.70,961.21 352.15,961.21 352.60,961.21 353.05,961.21 353.50,961.21 353.95,961.21 354.40,961.21 354.85,961.21 355.30,961.21 355.75,961.21 356.20,961.21 356.65,961.21 357.10,961.21 357.55,961.21 358.00,961.21 358.44,961.21 358.89,961.21 359.34,961.21 359.79,961.21 360.24,961.21 360.69,961.21 361.14,961.21 361.59,961.21 362.04,961.21 362.49,961.21 362.94,961.21 363.39,961.21 363.84,961.21 364.29,961.21 364.74,961.21 365.19,961.21 365.64,961.21 366.09,961.21 366.54,961.21 366.99,961.21 367.44,961.21 367.89,961.21 368.34,961.21 368.79,961.21 369.23,961.21 369.68,961.21 370.13,961.21 370.58,961.21 371.03,961.21 371.48,961.21 371.93,961.21 372.38,961.21 372.83,961.21 373.28,961.21 373.73,961.21 374.18,961.21 374.63,961.21 375.08,961.21 375.53,961.21 375.98,961.21 376.43,961.21 376.88,961.21 377.33,961.21 377.78,961.21 378.23,961.21 378.68,961.21 379.13,961.21 379.58,961.21 380.02,961.21 380.47,961.21 380.92,961.21 381.37,961.21 381.82,961.21 382.27,961.21 382.72,961.21 383.17,961.21 383.62,961.21 384.07,961.21 384.52,961.21 384.97,961.21 385.42,961.21 385.87,961.21 386.32,961.21 386.77,961.21 387.22,961.21 387.67,961.21 388.12,961.21 388.57,961.21 389.02,961.21 389.47,961.21 389.92,961.21 390.37,961.21 390.81,961.21 391.26,961.21 391.71,961.21 392.16,961.21 392.61,961.21 393.06,961.21 393.51,961.21 393.96,961.21 394.41,961.21 394.86,961.21 395.31,961.21 395.76,961.21 396.21,961.21 396.66,961.21 397.11,961.21 397.56,961.21 398.01,961.21 398.46,961.21 398.91,961.21 399.36,961.21 399.81,961.21 400.26,961.21 400.71,961.21 401.16,961.21 401.60,961.21 402.05,961.21 402.50,961.21 402.95,961.21 403.40,961.21 403.85,961.21 404.30,961.21 404.75,961.21 405.20,961.21 405.65,961.21 406.10,961.21 406.55,961.21 407.00,961.21 407.45,961.21 407.90,961.21 408.35,961.21 408.80,961.21 409.25,961.21 409.70,961.21 410.15,961.21 410.60,961.21 411.05,961.21 411.50,961.21 411.94,961.21 412.39,961.21 412.84,961.21 413.29,961.21 413.74,961.21 414.19,961.21 414.64,961.21 415.09,961.21 415.54,961.21 415.99,961.21 416.44,961.21 416.89,961.21 417.34,961.21 417.79,961.21 418.24,961.21 418.69,961.21 419.14,961.21 419.59,961.21 420.04,961.21 420.49,961.21 420.94,961.21 421.39,961.21 421.84,961.21 422.29,961.21 422.74,961.21 423.18,961.21 423.63,961.21 424.08,961.21 424.53,961.21 424.98,961.21 425.43,961.21 425.88,961.21 426.33,961.21 426.78,961.21 427.23,961.21 427.68,961.21 428.13,961.21 428.58,961.21 429.03,961.21 429.48,961.21 429.93,961.21 430.38,961.21 430.83,961.21 431.28,961.21 431.73,961.21 432.18,961.21 432.63,961.21 433.08,961.21 433.53,961.21 433.97,961.21 434.42,961.21 434.87,961.21 435.32,961.21 435.77,961.21 436.22,961.21 436.67,961.21 437.12,961.21 437.57,961.21 438.02,961.21 438.47,961.21 438.92,961.21 439.37,961.21 439.82,961.21 440.27,961.21 440.72,961.21 441.17,961.21 441.62,961.21 442.07,961.21 442.52,961.21 442.97,961.21 443.42,961.21 443.87,961.21 444.31,961.21 444.76,961.21 445.21,961.21 445.66,961.21 446.11,961.21 446.56,961.21 447.01,961.21 447.46,961.21 447.91,961.21 448.36,961.21 448.81,961.21 449.26,961.21 449.71,961.21 450.16,961.21 450.61,961.21 451.06,961.21 451.51,961.21 451.96,961.21 452.41,961.21 452.86,961.21 453.31,961.21 453.76,961.21 454.21,961.21 454.66,961.21 455.11,961.21 455.55,961.21 456.00,961.21 456.45,961.21 456.90,961.21 457.35,961.21 457.80,961.20 458.25,961.20 458.70,961.19 459.15,961.17 459.60,961.14 460.05,961.10 460.50,961.03 460.95,960.92 461.40,960.75 461.85,960.50 462.30,960.14 462.75,959.62 463.20,958.88 463.65,957.87 464.10,956.50 464.55,954.68 465.00,952.31 465.45,949.30 465.90,945.55 466.34,940.97 466.79,935.51 467.24,929.15 467.69,921.90 468.14,913.85 468.59,905.15 469.04,895.99 469.49,886.66 469.94,877.48 470.39,868.79 470.84,860.97 471.29,854.38 471.74,849.33 472.19,846.08 472.64,844.79 473.09,845.53 473.54,848.26 473.99,852.84 474.44,859.04 474.89,866.56 475.34,875.04 475.79,884.13 476.24,893.46 476.69,902.69 477.13,911.54 477.58,919.78 478.03,927.26 478.48,933.87 478.93,939.58 479.38,944.39 479.83,948.36 480.28,951.56 480.73,954.09 481.18,956.05 481.63,957.53 482.08,958.64 482.53,959.44 482.98,960.01 483.43,960.42 483.88,960.69 484.33,960.88 484.78,961.00 485.23,961.08 485.68,961.13 486.13,961.16 486.58,961.18 487.03,961.20 487.48,961.20 487.92,961.21 488.37,961.21 488.82,961.21 489.27,961.21 489.72,961.21 490.17,961.21 490.62,961.21 491.07,961.21 491.52,961.21 491.97,961.21 492.42,961.21 492.87,961.21 493.32,961.21 493.77,961.21 494.22,961.21 494.67,961.21 495.12,961.21 495.57,961.21 496.02,961.21 496.47,961.21 496.92,961.21 497.37,961.21 497.82,961.21 498.26,961.21 498.71,961.21 499.16,961.21 499.61,961.21 500.06,961.21 500.51,961.21 500.96,961.21 501.41,961.21 501.86,961.21 502.31,961.21 502.76,961.21 503.21,961.21 503.66,961.21 504.11,961.21 504.56,961.21 505.01,961.21 505.46,961.21 505.91,961.21 506.36,961.21 506.81,961.21 507.26,961.21 507.71,961.21 508.16,961.21 508.61,961.21 509.06,961.21 509.50,961.21 509.95,961.21 510.40,961.21 510.85,961.21 511.30,961.21 511.75,961.21 512.20,961.21 512.65,961.21 513.10,961.21 513.55,961.21 514.00,961.21 514.45,961.21 514.90,961.21 515.35,961.21 515.80,961.21 516.25,961.21 516.70,961.21 517.15,961.21 517.60,961.21 518.05,961.21 518.50,961.21 518.95,961.21 519.40,961.21 519.85,961.21 520.29,961.21 520.74,961.21 521.19,961.20 521.64,961.20 522.09,961.19 522.54,961.17 522.99,961.14 523.44,961.10 523.89,961.03 524.34,960.92 524.79,960.76 525.24,960.51 525.69,960.15 526.14,959.63 526.59,958.90 527.04,957.89 527.49,956.53 527.94,954.72 528.39,952.36 528.84,949.37 529.29,945.63 529.74,941.07 530.19,935.63 530.63,929.28 531.08,922.05 531.53,914.02 531.98,905.32 532.43,896.18 532.88,886.84 533.33,877.65 533.78,868.95 534.23,861.11 534.68,854.49 535.13,849.41 535.58,846.13 536.03,844.80 536.48,845.50 536.93,848.19 537.38,852.73 537.83,858.91 538.28,866.40 538.73,874.87 539.18,883.95 539.63,893.27 540.08,902.51 540.53,911.37 540.98,919.63 541.42,927.12 541.87,933.75 542.32,939.47 542.77,944.30 543.22,948.29 543.67,951.50 544.12,954.05 544.57,956.02 545.02,957.51 545.47,958.62 545.92,959.43 546.37,960.01 546.82,960.41 547.27,960.69 547.72,960.88 548.17,961.00 548.62,961.08 549.07,961.13 549.52,961.16 549.97,961.18 550.42,961.20 550.87,961.20 551.32,961.21 551.77,961.21 552.22,961.21 552.66,961.21 553.11,961.21 553.56,961.21 554.01,961.21 554.46,961.21 554.91,961.21 555.36,961.21 555.81,961.21 556.26,961.21 556.71,961.21 557.16,961.21 557.61,961.21 558.06,961.21 558.51,961.21 558.96,961.21 559.41,961.21 559.86,961.21 560.31,961.21 560.76,961.21 561.21,961.21 561.66,961.21 562.11,961.21 562.56,961.21 563.00,961.21 563.45,961.21 563.90,961.21 564.35,961.21 564.80,961.21 565.25,961.21 565.70,961.21 566.15,961.21 566.60,961.21 567.05,961.21 567.50,961.21 567.95,961.21 568.40,961.21 568.85,961.21 569.30,961.21 569.75,961.21 570.20,961.21 570.65,961.21 571.10,961.21 571.55,961.21 572.00,961.21 572.45,961.21 572.90,961.21 573.35,961.21 573.80,961.21 574.24,961.21 574.69,961.21 575.14,961.21 575.59,961.21 576.04,961.21 576.49,961.21 576.94,961.21 577.39,961.21 577.84,961.21 578.29,961.21 578.74,961.21 579.19,961.21 579.64,961.21 580.09,961.21 580.54,961.21 580.99,961.21 581.44,961.21 581.89,961.21 582.34,961.21 582.79,961.21 583.24,961.21 583.69,961.21 584.14,961.21 584.59,961.21 585.03,961.21 585.48,961.21 585.93,961.21 586.38,961.21 586.83,961.21 587.28,961.21 587.73,961.21 588.18,961.21 588.63,961.21 589.08,961.21 589.53,961.21 589.98,961.21 590.43,961.21 590.88,961.21 591.33,961.21 591.78,961.21 592.23,961.21 592.68,961.21 593.13,961.21 593.58,961.21 594.03,961.21 594.48,961.21 594.93,961.21 595.38,961.21 595.82,961.21 596.27,961.21 596.72,961.21 597.17,961.21 597.62,961.21 598.07,961.21 598.52,961.21 598.97,961.21 599.42,961.21 599.87,961.21 600.32,961.21 600.77,961.21 601.22,961.21 601.67,961.21 602.12,961.21 602.57,961.21 603.02,961.21 603.47,961.21 603.92,961.21 604.37,961.21 604.82,961.21 605.27,961.21 605.72,961.21 606.16,961.21 606.61,961.21 607.06,961.21 607.51,961.21 607.96,961.21 608.41,961.21 608.86,961.21 609.31,961.21 609.76,961.21 610.21,961.21 610.66,961.21 611.11,961.21 611.56,961.21 612.01,961.21 612.46,961.21 612.91,961.21 613.36,961.21 613.81,961.21 614.26,961.21 614.71,961.21 615.16,961.21 615.61,961.21 616.06,961.21 616.51,961.21 616.95,961.21 617.40,961.21 617.85,961.21 618.30,961.21 618.75,961.21 619.20,961.21 619.65,961.21 620.10,961.21 620.55,961.21 621.00,961.21 621.45,961.21 621.90,961.21 622.35,961.21 622.80,961.21 623.25,961.21 623.70,961.21 624.15,961.21 624.60,961.21 625.05,961.21 625.50,961.21 625.95,961.21 626.40,961.21 626.85,961.21 627.30,961.21 627.75,961.21 628.19,961.21 628.64,961.21 629.09,961.21 629.54,961.21 629.99,961.21 630.44,961.21 630.89,961.21 631.34,961.21 631.79,961.21 632.24,961.21 632.69,961.21 633.14,961.21 633.59,961.21 634.04,961.21 634.49,961.21 634.94,961.21 635.39,961.21 635.84,961.21 636.29,961.21 636.74,961.21 637.19,961.21 637.64,961.21 638.09,961.21 638.54,961.21 638.98,961.21 639.43,961.21 639.88,961.21 640.33,961.21 640.78,961.21 641.23,961.21 641.68,961.21 642.13,961.21 642.58,961.21 643.03,961.21 643.48,961.21 643.93,961.21 644.38,961.21 644.83,961.21 645.28,961.21 645.73,961.21 646.18,961.21 646.63,961.21 647.08,961.21 647.53,961.21 647.98,961.21 648.43,961.21 648.88,961.21 649.33,961.21 649.77,961.21 650.22,961.21 650.67,961.21 651.12,961.21 651.57,961.21 652.02,961.21 652.47,961.21 652.92,961.21 653.37,961.21 653.82,961.21 654.27,961.21 654.72,961.21 655.17,961.21 655.62,961.21 656.07,961.21 656.52,961.21 656.97,961.21 657.42,961.21 657.87,961.21 658.32,961.21 658.77,961.21 659.22,961.21 659.67,961.21 660.12,961.21 660.56,961.21 661.01,961.21 661.46,961.21 661.91,961.21 662.36,961.21 662.81,961.21 663.26,961.21 663.71,961.21 664.16,961.21 664.61,961.21 665.06,961.21 665.51,961.21 665.96,961.21 666.41,961.21 666.86,961.21 667.31,961.21 667.76,961.21 668.21,961.21 668.66,961.21 669.11,961.21 669.56,961.21 670.01,961.21 670.46,961.21 670.90,961.21 671.35,961.21 671.80,961.21 672.25,961.21 672.70,961.21 673.15,961.21 673.60,961.21 674.05,961.21 674.50,961.21 674.95,961.21 675.40,961.21 675.85,961.21 676.30,961.21" fill="none" stroke="#8000ff" stroke-width="2.45" stroke-linejoin="round" stroke-linecap="butt"/>
</g>
<text xml:space="preserve" transform="translate(126.63,1022.10) scale(1,1.026)" font-size="31.5" font-weight="normal" fill="#000">3422.4</text>
<text xml:space="preserve" transform="translate(280.67,1022.10) scale(1,1.026)" font-size="31.5" font-weight="normal" fill="#000">3422.2</text>
<text xml:space="preserve" transform="translate(434.71,1022.10) scale(1,1.026)" font-size="31.5" font-weight="normal" fill="#000">3422.0</text>
<text xml:space="preserve" transform="translate(588.75,1022.10) scale(1,1.026)" font-size="31.5" font-weight="normal" fill="#000">342</text>
<path transform="translate(641.30,1022.10) scale(0.01538,-0.01538)" d="M763 0H583V1147Q518 1085 412.5 1023Q307 961 223 930V1104Q374 1175 487 1276Q600 1377 647 1466H763V0Z" fill="#000"/>
<text xml:space="preserve" transform="translate(658.82,1022.10) scale(1,1.026)" font-size="31.5" font-weight="normal" fill="#000">.8</text>
<text xml:space="preserve" transform="translate(146.80,35.80) scale(1,1.0)" font-size="31.5" font-weight="bold" fill="#000">a</text>
<text xml:space="preserve" transform="translate(181.40,35.80) scale(1,1.035)" font-size="31.5" font-weight="normal" fill="#000">CH</text>
<text xml:space="preserve" transform="translate(226.90,47.10) scale(1,1.026)" font-size="18" font-weight="normal" fill="#000">3</text>
<text xml:space="preserve" transform="translate(236.91,35.80) scale(1,1.035)" font-size="31.5" font-weight="normal" fill="#000">OH</text>
<text xml:space="preserve" transform="translate(147.70,201.70) scale(1,1.0)" font-size="31.5" font-weight="bold" fill="#000">b</text>
<text xml:space="preserve" transform="translate(184.90,201.70) scale(1,1.035)" font-size="31.5" font-weight="normal" fill="#000">0-0.</text>
<path transform="translate(239.18,201.70) scale(0.01538,-0.01538)" d="M763 0H583V1147Q518 1085 412.5 1023Q307 961 223 930V1104Q374 1175 487 1276Q600 1377 647 1466H763V0Z" fill="#000"/>
<text xml:space="preserve" transform="translate(256.70,201.70) scale(1,1.035)" font-size="31.5" font-weight="normal" fill="#000"> ms</text>
<text xml:space="preserve" transform="translate(148.60,364.60) scale(1,1.0)" font-size="31.5" font-weight="bold" fill="#000">c</text>
<text xml:space="preserve" transform="translate(184.40,364.60) scale(1,1.035)" font-size="31.5" font-weight="normal" fill="#000">0-0.</text>
<path transform="translate(238.68,364.60) scale(0.01538,-0.01538)" d="M763 0H583V1147Q518 1085 412.5 1023Q307 961 223 930V1104Q374 1175 487 1276Q600 1377 647 1466H763V0Z" fill="#000"/>
<text xml:space="preserve" transform="translate(256.20,364.60) scale(1,1.035)" font-size="31.5" font-weight="normal" fill="#000"> ms</text>
<text xml:space="preserve" transform="translate(148.60,529.50) scale(1,1.0)" font-size="31.5" font-weight="bold" fill="#000">d</text>
<text xml:space="preserve" transform="translate(185.70,529.50) scale(1,1.035)" font-size="31.5" font-weight="normal" fill="#000">HO</text>
<text xml:space="preserve" transform="translate(232.95,540.80) scale(1,1.026)" font-size="18" font-weight="normal" fill="#000">2</text>
<text xml:space="preserve" transform="translate(151.70,690.80) scale(1,1.0)" font-size="31.5" font-weight="bold" fill="#000">e</text>
<text xml:space="preserve" transform="translate(187.70,690.80) scale(1,1.035)" font-size="31.5" font-weight="normal" fill="#000">H</text>
<text xml:space="preserve" transform="translate(210.45,702.10) scale(1,1.026)" font-size="18" font-weight="normal" fill="#000">2</text>
<text xml:space="preserve" transform="translate(220.46,690.80) scale(1,1.035)" font-size="31.5" font-weight="normal" fill="#000">CO</text>
<text xml:space="preserve" transform="translate(154.60,854.90) scale(1,1.0)" font-size="31.5" font-weight="bold" fill="#000">f</text>
<text xml:space="preserve" transform="translate(183.20,854.90) scale(1,1.035)" font-size="31.5" font-weight="normal" fill="#000">OH</text>
<text x="181.00" y="284.00" font-size="28" text-anchor="middle" font-weight="normal" fill="#000" >*</text>
<text x="232.00" y="285.70" font-size="28" text-anchor="middle" font-weight="normal" fill="#000" >*</text>
<text x="248.70" y="284.50" font-size="28" text-anchor="middle" font-weight="normal" fill="#000" >*</text>
<text x="303.60" y="279.90" font-size="28" text-anchor="middle" font-weight="normal" fill="#000" >*</text>
<text x="339.50" y="694.40" font-size="28" text-anchor="middle" font-weight="normal" fill="#ff0000" >*</text>
<text x="623.30" y="685.90" font-size="28" text-anchor="middle" font-weight="normal" fill="#ff0000" >*</text>
<text x="0" y="0" font-size="34.3" transform="translate(26.4,181.8) rotate(-90)">Absorbance</text>
<text x="0" y="0" font-size="34.3" transform="translate(26.8,417.09) rotate(-90)">Absorbance</text>
<path fill-rule="evenodd" fill="#000" d="M4.10,427.60 L26.90,418.00 L26.90,437.60 Z M25.30,435.26 L25.30,421.17 L8.91,428.07 Z"/>
<text x="0" y="0" font-size="34.3" transform="translate(25.3,862.1) rotate(-90)">Intensity / arb. unit</text>
<text x="246.0" y="1079.5" font-size="40.5">Wavenumber / cm</text>
<rect x="573.2" y="1053.1" width="12.3" height="1.5" fill="#000"/>
<path transform="translate(586.1,1059.6) scale(0.01172,-0.01172)" d="M763 0H583V1147Q518 1085 412.5 1023Q307 961 223 930V1104Q374 1175 487 1276Q600 1377 647 1466H763V0Z" fill="#000"/>
</svg>
</body></html>
